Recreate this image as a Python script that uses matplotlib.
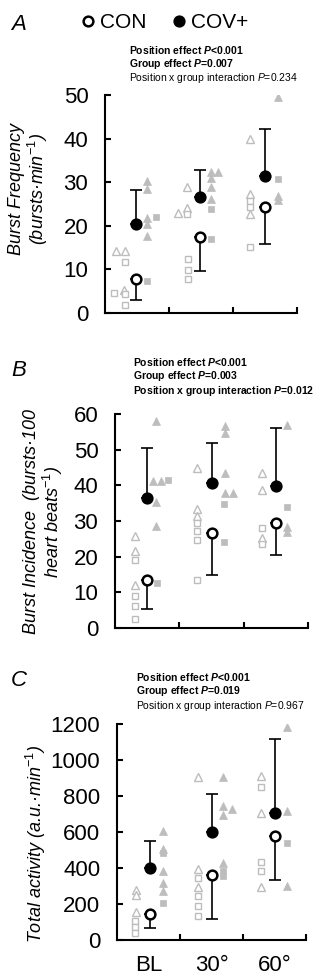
import matplotlib
matplotlib.use('Agg')
import matplotlib.pyplot as plt
from matplotlib.lines import Line2D

plt.rcParams['font.family'] = 'Liberation Sans'
plt.rcParams['mathtext.fontset'] = 'custom'
plt.rcParams['mathtext.rm'] = 'Liberation Sans'
plt.rcParams['mathtext.it'] = 'Liberation Sans:italic'
plt.rcParams['mathtext.bf'] = 'Liberation Sans:bold'
if 'mathtext.bfit' in plt.rcParams:
    plt.rcParams['mathtext.bfit'] = 'Liberation Sans:bold:italic'

positions = ['BL', '30°', '60°']

# A - burst frequency (bursts/min)
a_con_tri = [[14.3, 14.3, 5.3], [22.9, 24.0, 28.8], [39.9, 27.2, 22.6]]
a_con_sq = [[11.7, 4.6, 4.4, 1.9], [22.7, 12.4, 9.9, 7.8], [25.7, 24.2, 15.1]]
a_cov_tri = [[30.3, 28.4, 21.9, 20.3, 17.6], [32.3, 32.3, 31.0, 29.0, 26.2], [49.5, 26.9, 26.0]]
a_cov_sq = [[22.0, 7.3], [23.8, 17.0], [30.7]]
a_con_mean = [7.9, 17.5, 24.3]
a_con_sd = [5.0, 7.8, 8.5]
a_cov_mean = [20.5, 26.7, 31.5]
a_cov_sd = [7.6, 6.0, 10.6]

# B - burst incidence (bursts/100 heart beats)
b_con_tri = [[25.8, 21.6, 12.0], [45.0, 33.5, 31.3], [43.4, 38.8, 25.3]]
b_con_sq = [[19.1, 9.0, 6.2, 2.4], [29.5, 27.1, 24.8, 13.4], [28.0, 23.5]]
b_cov_tri = [[58.0, 41.3, 41.3, 35.3, 28.6], [56.5, 54.6, 43.4, 37.8, 37.8], [57.0, 28.4, 27.0]]
b_cov_sq = [[41.6, 12.5], [34.7, 24.1], [34.0]]
b_con_mean = [13.5, 26.6, 29.5]
b_con_sd = [8.1, 11.8, 8.9]
b_cov_mean = [36.5, 40.7, 39.7]
b_cov_sd = [14.1, 11.1, 16.3]

# C - total activity (a.u./min)
c_con_tri = [[280, 250, 155], [905, 392, 297], [909, 707, 294]]
c_con_sq = [[108, 72, 38], [346, 245, 190, 134], [851, 432, 386]]
c_cov_tri = [[605, 508, 386, 318, 273], [906, 746, 727, 697, 430], [1183, 718, 300]]
c_cov_sq = [[482, 203], [385, 355], [538]]
c_con_mean = [145, 362, 577]
c_con_sd = [80, 244, 245]
c_cov_mean = [402, 598, 708]
c_cov_sd = [146, 212, 410]

# horizontal placement of points inside each position slot
a_x = dict(con_tri=[[0.17, 0.31, 0.30], [0.145, 0.275, 0.275], [0.26, 0.26, 0.26]],
           con_sq=[[0.31, 0.145, 0.31, 0.31], [0.275, 0.295, 0.295, 0.295], [0.26, 0.26, 0.26]],
           cov_tri=[[0.66] * 5, [0.65, 0.76, 0.65, 0.65, 0.65], [0.71] * 3],
           cov_sq=[[0.79, 0.66], [0.65, 0.65], [0.71]],
           mean=[0.49, 0.48, 0.50])
b_x = dict(con_tri=[[0.31] * 3, [0.275] * 3, [0.29] * 3],
           con_sq=[[0.31] * 4, [0.275] * 4, [0.29] * 2],
           cov_tri=[[0.63, 0.585, 0.715, 0.63, 0.63], [0.71, 0.71, 0.71, 0.71, 0.84], [0.68] * 3],
           cov_sq=[[0.83, 0.66], [0.69, 0.69], [0.68]],
           mean=[0.50, 0.50, 0.51])
c_x = dict(con_tri=[[0.30] * 3, [0.29] * 3, [0.29] * 3],
           con_sq=[[0.28] * 3, [0.29] * 4, [0.29] * 3],
           cov_tri=[[0.73] * 5, [0.69, 0.69, 0.82, 0.69, 0.69], [0.70] * 3],
           cov_sq=[[0.73, 0.73], [0.69, 0.69], [0.70]],
           mean=[0.52, 0.505, 0.50])

gray = '#bdbdbd'
W, H = 328, 976


def px_axes(fig, left, top, right, bottom):
    return fig.add_axes([left / W, 1 - bottom / H, (right - left) / W, (bottom - top) / H])


def draw_panel(ax, con_tri, con_sq, cov_tri, cov_sq, con_mean, con_sd, cov_mean, cov_sd, xs, ymax, step):
    for i in range(3):
        ax.plot([i + o for o in xs['con_tri'][i]], con_tri[i], '^', ms=6, mfc='white', mec=gray, mew=1.0, zorder=2)
        ax.plot([i + o for o in xs['con_sq'][i]], con_sq[i], 's', ms=5, mfc='white', mec=gray, mew=1.0, zorder=2)
        ax.plot([i + o for o in xs['cov_tri'][i]], cov_tri[i], '^', ms=6, mfc=gray, mec=gray, mew=0.5, zorder=2)
        ax.plot([i + o for o in xs['cov_sq'][i]], cov_sq[i], 's', ms=5, mfc=gray, mec=gray, mew=0.5, zorder=2)
    mx = [i + o for i, o in enumerate(xs['mean'])]
    ax.errorbar(mx, con_mean, yerr=[con_sd, [0] * 3], fmt='none', ecolor='black', elinewidth=1.2,
                capsize=4, capthick=1.2, zorder=3)
    ax.errorbar(mx, cov_mean, yerr=[[0] * 3, cov_sd], fmt='none', ecolor='black', elinewidth=1.2,
                capsize=4, capthick=1.2, zorder=3)
    ax.plot(mx, con_mean, 'o', ms=7, mfc='white', mec='black', mew=1.8, zorder=4, ls='none')
    ax.plot(mx, cov_mean, 'o', ms=7, mfc='black', mec='black', mew=1.8, zorder=4, ls='none')

    ax.set_xlim(0, 3)
    ax.set_ylim(0, ymax)
    ax.set_yticks(range(0, ymax + 1, step))
    ax.set_xticks([1, 2, 3])
    ax.set_xticklabels([])
    ax.set_xticks([0.5, 1.5, 2.5], minor=True)
    for s in ['top', 'right']:
        ax.spines[s].set_visible(False)
    for s in ['left', 'bottom']:
        ax.spines[s].set_linewidth(1.5)
    ax.tick_params(axis='both', which='major', direction='in', length=4, width=1.5, labelsize=16, pad=12)
    ax.tick_params(axis='x', which='minor', length=0, labelsize=16, pad=11)


fig = plt.figure(figsize=(W / 100, H / 100), dpi=100)

ax_a = px_axes(fig, 105, 95, 297, 313)
draw_panel(ax_a, a_con_tri, a_con_sq, a_cov_tri, a_cov_sq, a_con_mean, a_con_sd, a_cov_mean, a_cov_sd, a_x, 50, 10)
ax_b = px_axes(fig, 115, 414, 308, 628)
draw_panel(ax_b, b_con_tri, b_con_sq, b_cov_tri, b_cov_sq, b_con_mean, b_con_sd, b_cov_mean, b_cov_sd, b_x, 60, 10)
ax_c = px_axes(fig, 117, 724, 306, 940)
draw_panel(ax_c, c_con_tri, c_con_sq, c_cov_tri, c_cov_sq, c_con_mean, c_con_sd, c_cov_mean, c_cov_sd, c_x, 1200, 200)
ax_c.set_xticklabels(positions, minor=True)

# panel letters
for lab, y in [('A', 25), ('B', 370), ('C', 681)]:
    fig.text(11 / W, 1 - y / H, lab, fontsize=16, style='italic', va='center', ha='left')

# y labels
fig.text(29 / W, 1 - 189 / H, 'Burst Frequency\n(bursts·min$^{-1}$)', rotation=90, style='italic',
         fontsize=13, ha='center', va='center', multialignment='center', linespacing=1.0)
fig.text(44 / W, 1 - 522 / H, 'Burst Incidence  (bursts·100\nheart beats$^{-1}$)', rotation=90, style='italic',
         fontsize=13, ha='center', va='center', multialignment='center', linespacing=1.0)
fig.text(36 / W, 1 - 844 / H, 'Total activity (a.u.·min$^{-1}$)', rotation=90, style='italic',
         fontsize=13, ha='center', va='center')

# statistics
stats = [
    (129, [50, 64, 78], ['Position effect $\\mathbfit{P}$<0.001', 'Group effect $\\mathbfit{P}$=0.007',
                         'Position x group interaction $\\mathit{P}$=0.234'], [True, True, False]),
    (133, [362, 376, 391], ['Position effect $\\mathbfit{P}$<0.001', 'Group effect $\\mathbfit{P}$=0.003',
                            'Position x group interaction $\\mathbfit{P}$=0.012'], [True, True, True]),
    (136, [677, 691, 706], ['Position effect $\\mathbfit{P}$<0.001', 'Group effect $\\mathbfit{P}$=0.019',
                            'Position x group interaction $\\mathit{P}$=0.967'], [True, True, False]),
]
for x0, ys, lines, bold in stats:
    for y, t, b in zip(ys, lines, bold):
        fig.text(x0 / W, 1 - y / H, t, fontsize=7.5, fontweight='bold' if b else 'normal', va='center', ha='left')

# legend
handles = [Line2D([], [], marker='o', ls='none', ms=7, mfc='white', mec='black', mew=1.8),
           Line2D([], [], marker='o', ls='none', ms=7, mfc='black', mec='black', mew=1.8)]
fig.legend(handles, ['CON', 'COV+'], loc='center', bbox_to_anchor=(165 / W, 1 - 23 / H), ncol=2,
           frameon=False, fontsize=15, handlelength=0.6, handletextpad=0.25, columnspacing=1.3,
           borderpad=0, borderaxespad=0)

fig.savefig('out.png', dpi=100)
